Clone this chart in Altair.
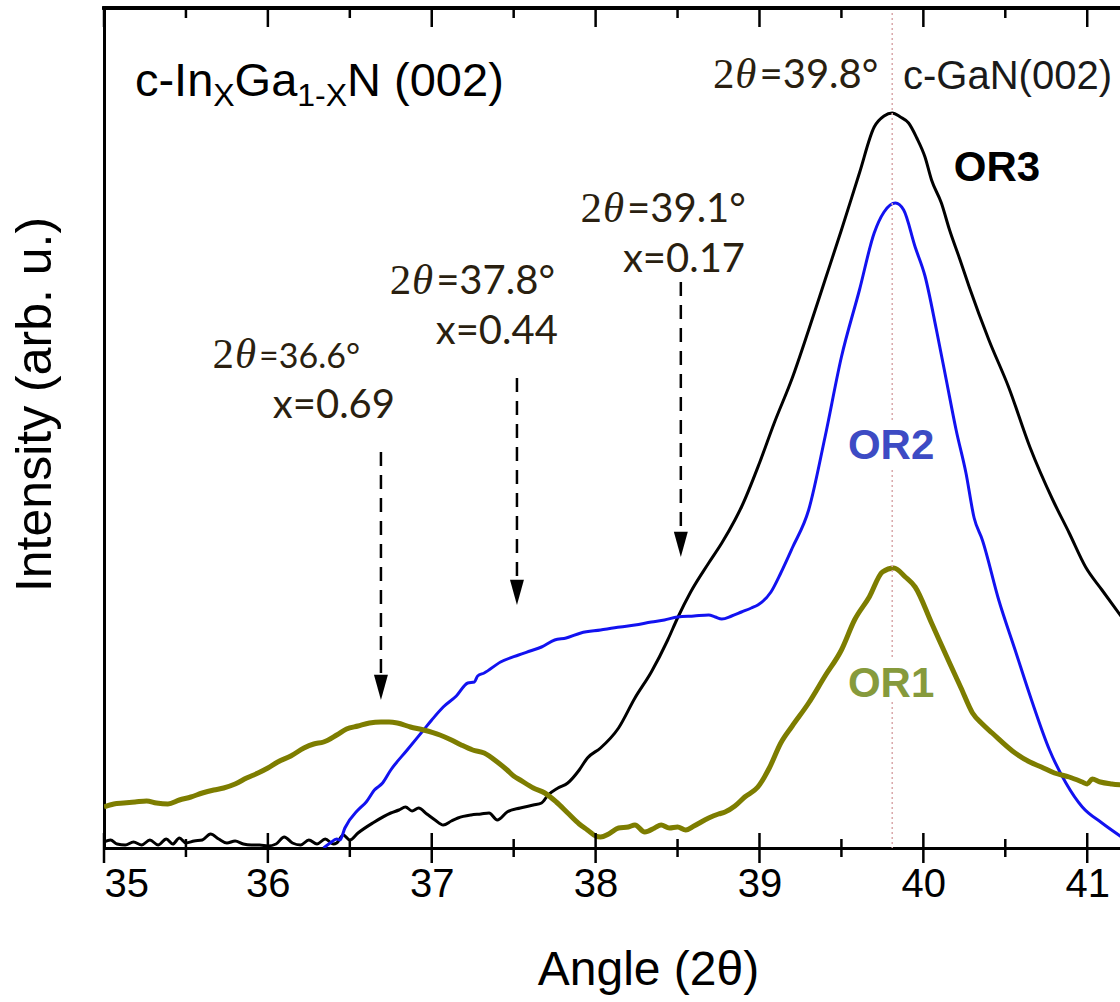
import altair as alt
import pandas as pd

# ---------------- data ----------------
# OR3 (black)
or3_x = [35.00, 35.04, 35.08, 35.13, 35.18, 35.23, 35.28, 35.33, 35.38, 35.42, 35.46, 35.50,
         35.55, 35.60, 35.65, 35.70, 35.75, 35.80, 35.85, 35.90, 35.95, 36.00, 36.05, 36.10,
         36.15, 36.20, 36.25, 36.30, 36.35, 36.40, 36.42, 36.46, 36.50, 36.55, 36.64, 36.75,
         36.80, 36.84, 36.88, 36.92, 36.97, 37.02, 37.07, 37.12, 37.16, 37.24, 37.30, 37.35,
         37.40, 37.46, 37.54, 37.62, 37.67, 37.71, 37.77, 37.83, 37.90, 37.95, 38.03, 38.14,
         38.24, 38.34, 38.44, 38.50, 38.58, 38.69, 38.77, 38.85, 38.89, 39.00, 39.09, 39.20,
         39.30, 39.40, 39.50, 39.61, 39.70, 39.76, 39.81, 39.86, 39.91, 39.96, 40.01, 40.05,
         40.11, 40.16, 40.22, 40.28, 40.40, 40.52, 40.65, 40.79, 40.89, 40.99, 41.09, 41.21]
or3_y = [6, 8, 4, 3, 6, 3, 8, 3, 9, 4, 10, 5,
         7, 8, 14, 9, 5, 7, 4, 3, 3, 2, 4, 11,
         5, 3, 8, 4, 9, 4, 5, 13, 8, 15, 25, 35,
         38, 41, 37, 40, 34, 28, 23, 27, 30, 33, 34, 35,
         28, 36, 40, 43, 45, 53, 60, 65, 78, 90, 100, 120,
         150, 176, 208, 230, 256, 285, 305, 328, 341, 385, 425, 470,
         518, 568, 618, 675, 721, 732, 735, 731, 725, 710, 691, 668,
         645, 618, 590, 561, 508, 461, 401, 348, 315, 281, 258, 231]

# OR2 (blue)
or2_x = [36.34, 36.38, 36.42, 36.44, 36.47, 36.55, 36.60, 36.65, 36.70, 36.75, 36.85, 36.95,
         37.00, 37.07, 37.15, 37.22, 37.26, 37.28, 37.32, 37.42, 37.53, 37.60, 37.67, 37.75,
         37.82, 37.91, 38.03, 38.15, 38.24, 38.34, 38.42, 38.50, 38.60, 38.69, 38.73, 38.77,
         38.83, 38.89, 38.95, 38.99, 39.07, 39.13, 39.20, 39.30, 39.40, 39.50, 39.61, 39.70,
         39.76, 39.83, 39.88, 39.95, 40.01, 40.08, 40.14, 40.20, 40.26, 40.31, 40.36, 40.46,
         40.56, 40.66, 40.77, 40.87, 40.97, 41.09, 41.21]
or2_y = [0, 5, 9, 8, 20, 38, 46, 58, 65, 78, 98, 118,
         128, 141, 152, 165, 166, 172, 175, 186, 193, 197, 201, 208,
         210, 215, 218, 221, 223, 226, 228, 231, 232, 233, 231, 229,
         232, 236, 240, 243, 256, 275, 300, 338, 411, 491, 558, 615,
         636, 645, 638, 601, 572, 518, 468, 418, 375, 330, 308, 248,
         198, 148, 98, 65, 41, 25, 11]

# OR1 (olive)
or1_x = [35.00, 35.06, 35.12, 35.19, 35.26, 35.32, 35.39, 35.46, 35.53, 35.60, 35.67, 35.73,
         35.80, 35.87, 35.94, 36.00, 36.06, 36.14, 36.22, 36.28, 36.34, 36.42, 36.48, 36.55,
         36.62, 36.69, 36.74, 36.79, 36.87, 36.95, 37.05, 37.12, 37.18, 37.25, 37.32, 37.40,
         37.46, 37.50, 37.54, 37.62, 37.69, 37.76, 37.83, 37.90, 37.95, 38.00, 38.03, 38.08,
         38.14, 38.20, 38.24, 38.30, 38.36, 38.40, 38.45, 38.50, 38.55, 38.60, 38.69, 38.75,
         38.79, 38.85, 38.91, 38.99, 39.06, 39.13, 39.20, 39.30, 39.40, 39.50, 39.58, 39.67,
         39.75, 39.82, 39.89, 39.95, 40.05, 40.16, 40.23, 40.30, 40.36, 40.42, 40.56, 40.65,
         40.72, 40.80, 40.89, 40.97, 41.00, 41.03, 41.08, 41.15, 41.21]
or1_y = [41, 44, 45, 46, 47, 45, 44, 48, 51, 55, 58, 60,
         64, 70, 75, 80, 86, 92, 100, 104, 106, 113, 119, 122,
         125, 126, 126, 125, 121, 118, 113, 108, 103, 98, 95, 86,
         78, 72, 68, 60, 55, 46, 35, 24, 18, 12, 11, 14,
         20, 21, 23, 16, 20, 23, 20, 21, 18, 22, 30, 34,
         36, 42, 51, 61, 80, 105, 122, 145, 172, 198, 228, 251,
         276, 280, 271, 261, 225, 185, 160, 135, 124, 115, 95, 86,
         81, 75, 71, 66, 64, 69, 66, 64, 63]

x_ticks_major = [35, 36, 37, 38, 39, 40, 41]
x_ticks_minor = [35.5, 36.5, 37.5, 38.5, 39.5, 40.5]

# peak markers (dashed arrows): x position, arrow start, arrow head base, arrow tip
arrow_x = [36.69, 37.52, 38.52]
arrow_top = [396, 470, 566]
arrow_base = [173, 268, 316]
arrow_tip = [148, 243, 291]

gan_peak = 39.81
gan_segments_top = [840, 378, 146]
gan_segments_bottom = [428, 191, 0]

# ---------------- layout / style ----------------
W, H = 1016, 840
FONT = "Liberation Sans"
SERIF = "Liberation Serif"
NUM = "Lato"
TXT = "#2a1f10"

xs = alt.Scale(domain=[35, 41.2], nice=False, zero=False)
ys = alt.Scale(domain=[0, 840], nice=False, zero=False)

x_axis = alt.Axis(values=x_ticks_major, format="d", ticks=False, grid=False,
                  labelFontSize=40, labelFont=FONT, labelColor="black", labelPadding=16,
                  domainWidth=3, domainColor="black",
                  title="Angle (2θ)", titleFont=FONT, titleFontSize=48, titleFontWeight="normal",
                  titleColor="black", titleX=544, titleY=136, titleBaseline="alphabetic",
                  titleAlign="center", titleAnchor="middle")
y_axis = alt.Axis(labels=False, ticks=False, grid=False, domainWidth=3, domainColor="black",
                  title="Intensity (arb. u.)", titleFont=FONT, titleFontSize=50,
                  titleFontWeight="normal", titleColor="black",
                  titleAngle=270, titleX=-54, titleY=396, titleAlign="center",
                  titleBaseline="alphabetic", titleAnchor="middle")

X = alt.X("a:Q", scale=xs, axis=x_axis)
Y = alt.Y("i:Q", scale=ys, axis=y_axis)


def line(xv, yv, color, width):
    df = pd.DataFrame({"a": xv, "i": yv})
    return alt.Chart(df).mark_line(color=color, strokeWidth=width, clip=True,
                                   strokeJoin="round", interpolate="monotone").encode(x=X, y=Y)


def label(text, a, i, size, font=FONT, color="black", align="left", weight="normal",
          style="normal", dx=0, dy=0):
    df = pd.DataFrame({"a": [a], "i": [i], "t": [text]})
    return alt.Chart(df).mark_text(align=align, baseline="alphabetic", font=font,
                                   fontSize=size, color=color, fontWeight=weight,
                                   fontStyle=style, dx=dx, dy=dy).encode(x=X, y=Y, text="t:N")


layers = []

# curves
layers.append(line(or3_x, or3_y, "#000000", 3))
layers.append(line(or2_x, or2_y, "#1212f0", 3))
layers.append(line(or1_x, or1_y, "#7d7d00", 5))

# dotted GaN(002) line
gan_df = pd.DataFrame({"a": [gan_peak] * len(gan_segments_top),
                       "i": gan_segments_top, "i2": gan_segments_bottom})
layers.append(alt.Chart(gan_df).mark_rule(color="#d9a8aa", strokeWidth=1.5,
                                          strokeDash=[2, 3]).encode(
    x=X, y=Y, y2="i2:Q"))

# dashed arrows
arr_df = pd.DataFrame({"a": arrow_x, "i": arrow_top, "i2": arrow_base, "tip": arrow_tip})
layers.append(alt.Chart(arr_df).mark_rule(color="black", strokeWidth=2.5,
                                          strokeDash=[14, 9]).encode(x=X, y=Y, y2="i2:Q"))
layers.append(alt.Chart(arr_df).mark_point(shape="M-0.5,-1.8L0.5,-1.8L0,0Z", filled=True,
                                           size=780, color="black", opacity=1,
                                           strokeWidth=0).encode(
    x=X, y=alt.Y("tip:Q", scale=ys, axis=y_axis)))

# frame top + ticks
tick_maj = pd.DataFrame({"a": x_ticks_major})
tick_min = pd.DataFrame({"a": x_ticks_minor})
layers.append(alt.Chart(tick_maj).mark_rule(color="black", strokeWidth=2.5).encode(
    x=X, y=alt.value(H - 15), y2=alt.value(H + 15)))
layers.append(alt.Chart(tick_min).mark_rule(color="black", strokeWidth=2.5).encode(
    x=X, y=alt.value(H - 9), y2=alt.value(H + 9)))
layers.append(alt.Chart(tick_maj).mark_rule(color="black", strokeWidth=2.5).encode(
    x=X, y=alt.value(0), y2=alt.value(19)))
layers.append(alt.Chart(tick_min).mark_rule(color="black", strokeWidth=2.5).encode(
    x=X, y=alt.value(0), y2=alt.value(10)))
layers.append(alt.Chart(tick_maj).mark_rule(color="black", strokeWidth=3).encode(
    x=alt.value(-1.5), x2=alt.value(W), y=alt.value(0)))

# title of the material, with subscripts
a0, i0 = 35.189, 752
layers.append(label("c-In", a0, i0, 47))
layers.append(label("X", a0, i0, 32, dx=78.3, dy=10))
layers.append(label("Ga", a0, i0, 47, dx=99.6))
layers.append(label("1-X", a0, i0, 32, dx=162.3, dy=10))
layers.append(label("N (002)", a0, i0, 47, dx=212.1))


# peak annotations: upright "2", italic theta, then the value
def theta_label(a, i, rest, size_rest):
    return [label("θ", a, i, 43, font=SERIF, color=TXT, align="right", style="italic", dx=-3),
            label("2", a, i, 43, font=SERIF, color=TXT, align="right", dx=-25),
            label(rest, a, i, size_rest, font=NUM, color=TXT, align="left")]


layers += theta_label(39.000, 760, "=39.8°", 40)
layers.append(label("c-GaN(002)", 39.876, 759, 40, color="#1a1a1a"))
layers += theta_label(38.192, 626, "=39.1°", 40)
layers.append(label("x=0.17", 38.912, 576, 40, font=NUM, color=TXT, align="right"))
layers += theta_label(37.027, 554, "=37.8°", 40)
layers.append(label("x=0.44", 37.770, 504, 40, font=NUM, color=TXT, align="right"))
layers += theta_label(35.946, 480, "=36.6°", 34)
layers.append(label("x=0.69", 36.776, 430, 40, font=NUM, color=TXT, align="right"))

# series labels
layers.append(label("OR3", 40.449, 667, 42, weight="bold", align="center", color="#000000"))
layers.append(label("OR2", 39.803, 389, 42, weight="bold", align="center", color="#3d4bc4"))
layers.append(label("OR1", 39.803, 151, 42, weight="bold", align="center", color="#869a3c"))

chart = alt.layer(*layers).properties(
    width=W, height=H,
    padding={"left": 104, "top": 8, "right": 0, "bottom": 154},
    autosize=alt.AutoSizeParams(type="none"),
    background="white",
).configure_view(stroke=None)

chart.save("out.html", embed_options={"renderer": "svg", "actions": False})
